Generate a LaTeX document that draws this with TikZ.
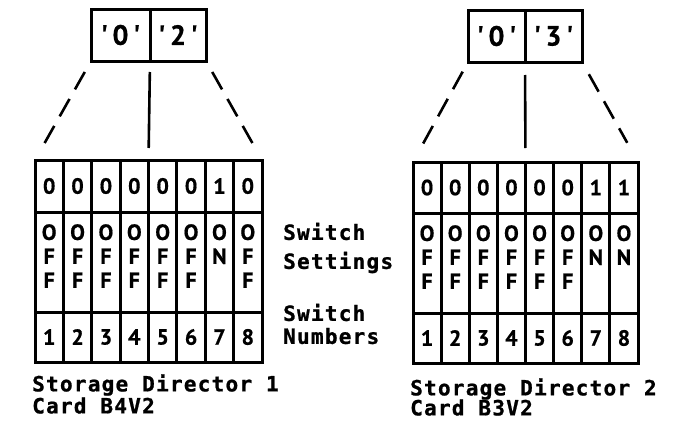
\documentclass[tikz,border=0pt]{standalone}
\usepackage{fontspec}
\newfontfamily\ibm{DejaVu Sans Mono}[Ligatures=TeXOff,LetterSpace=6,BoldFeatures={FakeBold=1}]
\newfontfamily\plate{PT Sans}[Ligatures=TeXOff,BoldFeatures={FakeBold=0.6}]
\usetikzlibrary{positioning}

\begin{document}
\begin{tikzpicture}[x=1pt,y=-1pt,
  font=\ibm\bfseries\fontsize{21}{24}\selectfont,
  cell/.style={draw,line width=3pt,inner sep=0pt,outer sep=0pt,anchor=north west,align=center,
    font=\plate\bfseries\fontsize{22}{24}\selectfont},
  code/.style={cell,minimum height=52pt,font=\plate\bfseries\fontsize{28}{30}\selectfont},
  state/.style={inner sep=0pt,align=center,font=\plate\bfseries\fontsize{22}{24}\selectfont},
  link/.style={line width=2.6pt},
  gap/.style={link,dash pattern=on 20pt off 11pt},
  lbl/.style={inner sep=0pt,anchor=west,align=left}
]
\useasboundingbox (0,0) rectangle (681,423);
% hex code of director 1
\node[code,minimum width=59pt] (lt0) at (91,9) {'\,0\,'};
\node[code,minimum width=56pt] (lt1) at (lt0.north east) {'\,2\,'};
% switch block of director 1
\foreach \t/\a/\b/\c [count=\i] in {0/O/F/F,0/O/F/F,0/O/F/F,0/O/F/F,0/O/F/F,0/O/F/F,1/O/N/{},0/O/F/F} {
  \node[cell,minimum width=28.375pt,minimum height=52pt] (lg\i-a) at ({35+28.375*(\i-1)},160) {\t};
  \node[cell,minimum width=28.375pt,minimum height=100pt] (lg\i-b) at (lg\i-a.south west) {};
  \node[state,below=12pt of lg\i-b.north] (lg\i-s) {\a\\\b\\\c};
  \node[cell,minimum width=28.375pt,minimum height=50pt] (lg\i-c) at (lg\i-b.south west) {\i};
}
\draw[gap,shorten <=12.6pt,shorten >=19.5pt] (lt0.south west) -- (lg1-a.north west);
\draw[link,shorten <=11pt,shorten >=12pt] (lt0.south east) -- (lg4-a.north east);
\draw[gap,shorten <=12.6pt,shorten >=19.5pt] (lt1.south east) -- (lg8-a.north east);
\node[lbl] (sd1) at (32,394) {Storage Director 1\\[-2pt]Card B4V2};

% hex code of director 2
\node[code,minimum width=57pt] (rt0) at (468,10) {'\,0\,'};
\node[code,minimum width=57pt] (rt1) at (rt0.north east) {'\,3\,'};
% switch block of director 2
\foreach \t/\a/\b/\c [count=\i] in {0/O/F/F,0/O/F/F,0/O/F/F,0/O/F/F,0/O/F/F,0/O/F/F,1/O/N/{},1/O/N/{}} {
  \node[cell,minimum width=28.125pt,minimum height=51pt] (rg\i-a) at ({413+28.125*(\i-1)},162) {\t};
  \node[cell,minimum width=28.125pt,minimum height=100pt] (rg\i-b) at (rg\i-a.south west) {};
  \node[state,below=12pt of rg\i-b.north] (rg\i-s) {\a\\\b\\\c};
  \node[cell,minimum width=28.125pt,minimum height=50pt] (rg\i-c) at (rg\i-b.south west) {\i};
}
\draw[gap,shorten <=11pt,shorten >=20pt] (rt0.south west) -- (rg1-a.north west);
\draw[link,shorten <=13pt,shorten >=14pt] (rt0.south east) -- (rg4-a.north east);
\draw[gap,shorten <=14pt,shorten >=22pt] (rt1.south east) -- (rg8-a.north east);
\node[lbl] (sd2) at (410,397) {Storage Director 2\\[-4pt]Card B3V2};

% row captions
\node[lbl] (set) at (283,248) {Switch\\[5pt]Settings};
\node[lbl] (num) at (283,324) {Switch\\[-1pt]Numbers};
\end{tikzpicture}
\end{document}
